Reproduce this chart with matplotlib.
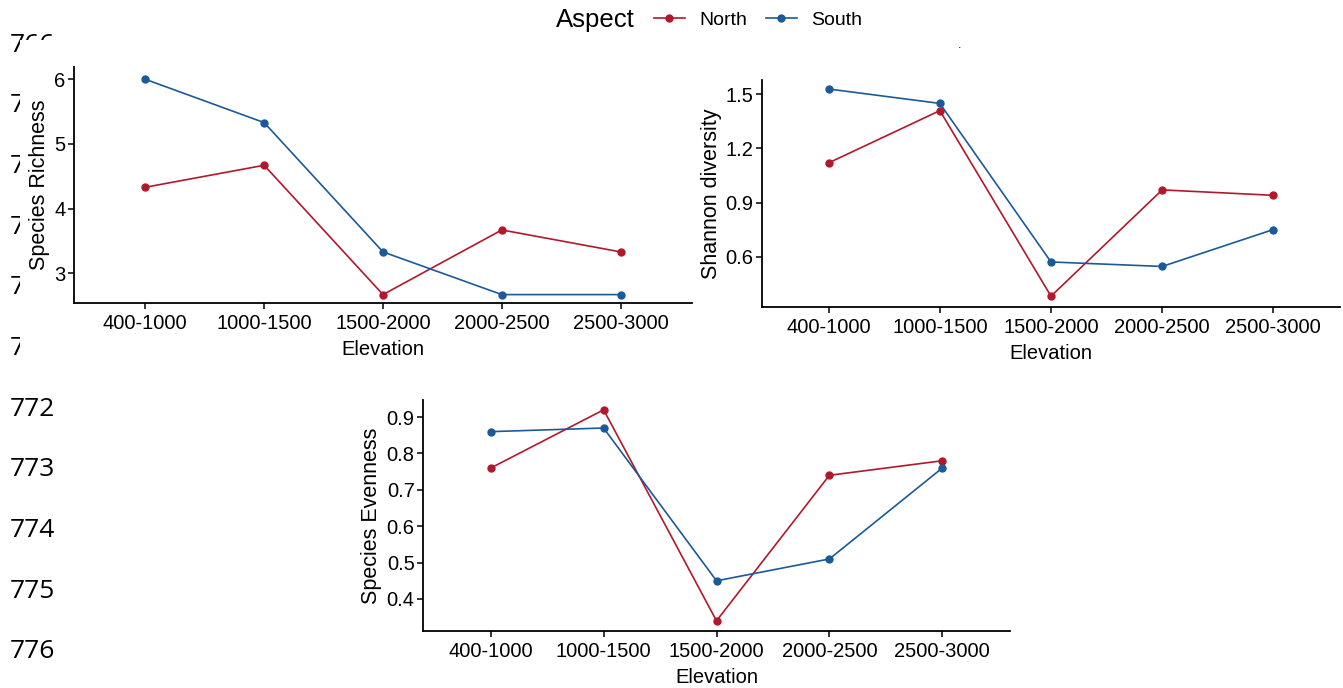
import matplotlib
matplotlib.use("Agg")
import matplotlib.pyplot as plt
from matplotlib.lines import Line2D
from matplotlib.patches import Rectangle
from matplotlib.offsetbox import HPacker

# Data
elevation = ["400-1000", "1000-1500", "1500-2000", "2000-2500", "2500-3000"]

richness_north = [4.33, 4.67, 2.67, 3.67, 3.33]
richness_south = [6.0, 5.33, 3.33, 2.67, 2.67]

shannon_north = [1.12, 1.41, 0.38, 0.97, 0.94]
shannon_south = [1.53, 1.45, 0.57, 0.545, 0.75]

evenness_north = [0.76, 0.92, 0.34, 0.74, 0.78]
evenness_south = [0.86, 0.87, 0.45, 0.51, 0.76]

line_numbers = ["766", "767", "768", "769", "770", "771", "772", "773", "774", "775", "776"]

RED = "#B2182B"
BLUE = "#1B5A97"
FS = 14.5

plt.rcParams['font.family'] = ['Liberation Sans', 'DejaVu Sans']

fig = plt.figure(figsize=(13.43, 6.88), dpi=100)

# manuscript line numbers behind the pasted figure
for i, s in enumerate(line_numbers):
    y = 1 - (45 + i * 60.7) / 688
    fig.text(10 / 1343, y, s, fontsize=19, family=['Open Sans', 'DejaVu Sans'],
             va='center', ha='left', color='black', zorder=-3)
fig.patches.append(Rectangle((20 / 1343, 1 - 378 / 688), 1 - 20 / 1343, (378 - 40) / 688,
                             transform=fig.transFigure, facecolor='white',
                             edgecolor='none', zorder=-2))
fig.text(960 / 1343, 1 - 45 / 688, ".", fontsize=9, ha='center', va='center', zorder=5)


def panel(rect, north, south, ylabel, ylim, yticks, yticklabels):
    ax = fig.add_axes(rect)
    x = list(range(len(elevation)))
    ax.plot(x, north, color=RED, lw=1.2, marker='o', ms=5, zorder=3)
    ax.plot(x, south, color=BLUE, lw=1.2, marker='o', ms=5, zorder=3)
    ax.set_xlim(-0.6, 4.6)
    ax.set_ylim(*ylim)
    ax.set_xticks(x)
    ax.set_xticklabels(elevation, fontsize=FS)
    ax.set_yticks(yticks)
    ax.set_yticklabels(yticklabels, fontsize=FS)
    ax.set_xlabel("Elevation", fontsize=FS, labelpad=5)
    ax.set_ylabel(ylabel, fontsize=15.5, labelpad=3)
    for sp in ['top', 'right']:
        ax.spines[sp].set_visible(False)
    for sp in ['left', 'bottom']:
        ax.spines[sp].set_linewidth(1.3)
    ax.tick_params(length=4, width=1.1, colors='black')
    ax.tick_params(axis='x', pad=4)
    ax.tick_params(axis='y', pad=2)
    ax.set_facecolor('white')
    return ax


panel([74 / 1343, 1 - 303 / 688, (692 - 74) / 1343, (303 - 67) / 688],
      richness_north, richness_south, "Species Richness",
      (2.54, 6.19), [3, 4, 5, 6], ["3", "4", "5", "6"])

panel([762 / 1343, 1 - 307 / 688, (1340 - 762) / 1343, (307 - 80) / 688],
      shannon_north, shannon_south, "Shannon diversity",
      (0.32, 1.58), [0.6, 0.9, 1.2, 1.5], ["0.6", "0.9", "1.2", "1.5"])

panel([423 / 1343, 1 - 631 / 688, (1010 - 423) / 1343, (631 - 400) / 688],
      evenness_north, evenness_south, "Species Evenness",
      (0.312, 0.947), [0.4, 0.5, 0.6, 0.7, 0.8, 0.9],
      ["0.4", "0.5", "0.6", "0.7", "0.8", "0.9"])

# legend at the top, title inline with the entries
handles = [Line2D([], [], color=RED, lw=1.2, marker='o', ms=5),
           Line2D([], [], color=BLUE, lw=1.2, marker='o', ms=5)]
leg = fig.legend(handles, ["North", "South"], loc='center',
                 bbox_to_anchor=(709 / 1343, 1 - 20 / 688), ncol=2, frameon=False,
                 fontsize=14, title="Aspect", title_fontsize=18.5,
                 handlelength=1.6, columnspacing=0.95, handletextpad=0.75,
                 borderpad=0, borderaxespad=0)
title_box = leg._legend_box._children[0]
body = leg._legend_box._children[1]
leg._legend_box._children = [HPacker(children=[title_box, body], pad=0, sep=14, align='center')]

fig.savefig("out.png", dpi=100, facecolor='white')
